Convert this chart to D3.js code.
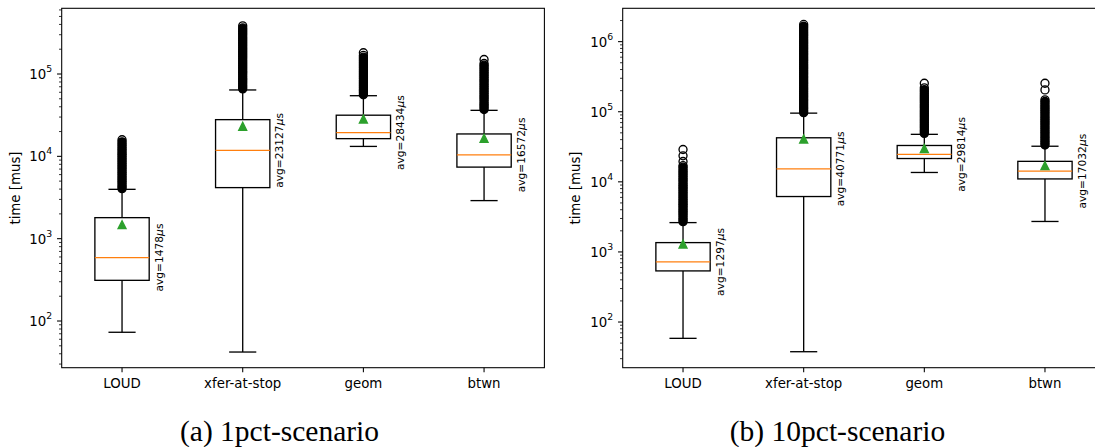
<!DOCTYPE html>
<html>
<head>
<meta charset="utf-8">
<script src="https://cdn.jsdelivr.net/npm/d3@7"></script>
<style>
  body { margin: 0; background: #fff; }
  svg text { font-family: "DejaVu Sans", sans-serif; fill: #000; }
  .caption { font-family: "Liberation Serif", "Times New Roman", serif; }
</style>
</head>
<body>
<svg id="okvir" width="1095" height="447"></svg>
<script>
const categories = ["LOUD", "xfer-at-stop", "geom", "btwn"]

// (a) 1pct-scenario
const lowA  = [73, 42, 13200, 2900]
const q1A   = [312, 4170, 16400, 7400]
const medA  = [590, 11800, 19400, 10400]
const q3A   = [1800, 27900, 31600, 18700]
const highA = [3975, 64000, 54500, 36200]
const meanA = [1478, 23127, 28434, 16572]
const outLoudA = [4050, 4250, 4450, 4700, 4950, 5200, 5450, 5750, 6050, 6350, 6700, 7050, 7400, 7800, 8200, 8600, 9050, 9500, 10000, 10500, 11000, 11600, 12200, 12800, 13500, 14200, 15000, 15900]
const outXferA = [66000, 69500, 73000, 77000, 81000, 85000, 89000, 94000, 99000, 104000, 109000, 115000, 121000, 127000, 133000, 140000, 147000, 155000, 163000, 171000, 180000, 189000, 199000, 209000, 220000, 231000, 243000, 255000, 268000, 282000, 297000, 312000, 328000, 345000, 363000, 385000]
const outGeomA = [56000, 59000, 62000, 65000, 68500, 72000, 75500, 79500, 83500, 88000, 92500, 97000, 102000, 107000, 113000, 119000, 125000, 131000, 138000, 145000, 152000, 160000, 168000, 181000]
const outBtwnA = [37000, 39000, 41000, 43000, 45000, 47500, 50000, 52500, 55000, 58000, 61000, 64000, 67000, 70500, 74000, 78000, 82000, 86000, 90500, 95000, 100000, 105000, 110000, 116000, 122000, 128000, 134000, 150000]

// (b) 10pct-scenario
const lowB  = [58.5, 37.7, 13600, 2720]
const q1B   = [536, 6170, 21500, 11000]
const medB  = [720, 15300, 24600, 14200]
const q3B   = [1358, 42500, 33000, 19600]
const highB = [2620, 95500, 47600, 32200]
const meanB = [1297, 40771, 29814, 17032]
const outLoudB = [2700, 2850, 3000, 3200, 3400, 3600, 3800, 4000, 4250, 4500, 4750, 5000, 5300, 5600, 5950, 6300, 6700, 7100, 7500, 7950, 8400, 8900, 9400, 10000, 10600, 11200, 11900, 12600, 13400, 14200, 15100, 16200, 17000, 19500, 23500, 28900]
const outXferB = [97000, 103000, 110000, 117000, 125000, 133000, 142000, 151000, 161000, 171000, 182000, 194000, 207000, 220000, 234000, 250000, 266000, 283000, 302000, 321000, 342000, 364000, 388000, 413000, 440000, 469000, 500000, 532000, 567000, 604000, 643000, 685000, 730000, 777000, 828000, 882000, 939000, 1000000, 1065000, 1135000, 1210000, 1290000, 1375000, 1465000, 1560000, 1660000, 1760000]
const outGeomB = [49000, 52000, 55000, 58500, 62000, 66000, 70000, 74500, 79000, 84000, 89000, 94500, 100000, 106000, 113000, 120000, 127000, 135000, 143000, 152000, 161000, 171000, 182000, 194000, 206000, 219000, 255000]
const outBtwnB = [33500, 35500, 37500, 40000, 42500, 45000, 48000, 51000, 54000, 57500, 61000, 65000, 69000, 73000, 77500, 82000, 87000, 92500, 98000, 104000, 110000, 117000, 124000, 132000, 140000, 148000, 205000, 255000]

const yDomainA = [27.1, 628000]
const yDomainB = [22.3, 2990000]

const okvir = d3.select("#okvir")

function crtajPanel(p) {
  const g = okvir.append("g")
  const x = d3.scaleLinear().domain([0.5, 4.5]).range([p.left, p.right])
  const y = d3.scaleLog().domain(p.domain).range([p.bottom, p.top])
  const sirina = 0.45
  const lw = 1.33

  // kutije
  categories.forEach((c, i) => {
    const pos = i + 1
    const xl = x(pos - sirina / 2), xr = x(pos + sirina / 2)
    const xc = x(pos)
    const capL = x(pos - sirina / 4), capR = x(pos + sirina / 4)

    g.append("rect")
      .attr("x", xl).attr("y", y(p.q3[i]))
      .attr("width", xr - xl).attr("height", y(p.q1[i]) - y(p.q3[i]))
      .attr("fill", "none").attr("stroke", "#000").attr("stroke-width", lw)

    // brkovi
    g.append("line").attr("x1", xc).attr("x2", xc)
      .attr("y1", y(p.q1[i])).attr("y2", y(p.low[i]))
      .attr("stroke", "#000").attr("stroke-width", lw)
    g.append("line").attr("x1", xc).attr("x2", xc)
      .attr("y1", y(p.q3[i])).attr("y2", y(p.high[i]))
      .attr("stroke", "#000").attr("stroke-width", lw)
    g.append("line").attr("x1", capL).attr("x2", capR)
      .attr("y1", y(p.low[i])).attr("y2", y(p.low[i]))
      .attr("stroke", "#000").attr("stroke-width", lw)
    g.append("line").attr("x1", capL).attr("x2", capR)
      .attr("y1", y(p.high[i])).attr("y2", y(p.high[i]))
      .attr("stroke", "#000").attr("stroke-width", lw)

    // medijan
    g.append("line").attr("x1", xl).attr("x2", xr)
      .attr("y1", y(p.med[i])).attr("y2", y(p.med[i]))
      .attr("stroke", "#ff7f0e").attr("stroke-width", lw)

    // outlieri - gusto nabijeni krugovi se stapaju u crni stupac
    const out = p.out[i]
    g.selectAll(null)
      .data(out)
      .enter().append("circle")
      .attr("cx", xc).attr("cy", d => y(d)).attr("r", 4)
      .attr("fill", (d, k) => {
        const sljedeci = out[k + 1]
        return (sljedeci !== undefined && y(d) - y(sljedeci) < 2.6) ? "#000" : "none"
      })
      .attr("stroke", "#000").attr("stroke-width", lw)

    // prosjek
    const my = y(p.mean[i])
    g.append("path")
      .attr("d", `M${xc},${my - 4}L${xc - 4},${my + 4}L${xc + 4},${my + 4}Z`)
      .attr("fill", "#2ca02c").attr("stroke", "#2ca02c").attr("stroke-width", lw)
      .attr("stroke-linejoin", "miter")

    const tx = xr + 9.5, ty = y(p.med[i])
    const t = g.append("text")
      .attr("transform", `translate(${tx},${ty}) rotate(-90)`)
      .attr("text-anchor", "middle")
      .attr("dominant-baseline", "central")
      .attr("font-size", 10.67)
    t.append("tspan").text(`avg=${p.mean[i]}`)
    t.append("tspan").attr("font-style", "italic").text("\u03bc")
    t.append("tspan").text("s")
  })

  // y os
  const ticks = y.ticks()
  ticks.forEach(v => {
    const lg = Math.log10(v)
    const major = Math.abs(lg - Math.round(lg)) < 1e-9
    g.append("line")
      .attr("x1", p.left).attr("x2", p.left - (major ? 4.67 : 2.67))
      .attr("y1", y(v)).attr("y2", y(v))
      .attr("stroke", "#000").attr("stroke-width", major ? 1.07 : 0.8)
    if (major) {
      const lab = g.append("text")
        .attr("x", p.left - 9.5).attr("y", y(v))
        .attr("text-anchor", "end")
        .attr("dominant-baseline", "central")
        .attr("font-size", 13.33)
      lab.append("tspan").text("10")
      lab.append("tspan").attr("font-size", 9.3).attr("dy", -6).text(Math.round(lg))
    }
  })

  // x os
  categories.forEach((c, i) => {
    g.append("line")
      .attr("x1", x(i + 1)).attr("x2", x(i + 1))
      .attr("y1", p.bottom).attr("y2", p.bottom + 4.67)
      .attr("stroke", "#000").attr("stroke-width", 1.07)
    g.append("text")
      .attr("x", x(i + 1)).attr("y", p.bottom + 20.5)
      .attr("text-anchor", "middle")
      .attr("font-size", 13.33)
      .text(c)
  })

  // okvir osi
  g.append("rect")
    .attr("x", p.left).attr("y", p.top)
    .attr("width", p.right - p.left).attr("height", p.bottom - p.top)
    .attr("fill", "none").attr("stroke", "#000").attr("stroke-width", 1.07)

  g.append("text")
    .attr("transform", `translate(${p.ylabelX},${(p.top + p.bottom) / 2}) rotate(-90)`)
    .attr("text-anchor", "middle")
    .attr("dominant-baseline", "central")
    .attr("font-size", 13.33)
    .text("time [mus]")

  g.append("text")
    .attr("class", "caption")
    .attr("x", p.captionX).attr("y", 441)
    .attr("text-anchor", "middle")
    .attr("font-size", 29.5)
    .text(p.caption)
}

crtajPanel({
  left: 61.7, right: 544.4, top: 8.3, bottom: 367.7,
  domain: yDomainA,
  low: lowA, q1: q1A, med: medA, q3: q3A, high: highA, mean: meanA,
  out: [outLoudA, outXferA, outGeomA, outBtwnA],
  ylabelX: 15, captionX: 279.5, caption: "(a) 1pct-scenario"
})

crtajPanel({
  left: 622.7, right: 1105.3, top: 8.3, bottom: 367.7,
  domain: yDomainB,
  low: lowB, q1: q1B, med: medB, q3: q3B, high: highB, mean: meanB,
  out: [outLoudB, outXferB, outGeomB, outBtwnB],
  ylabelX: 575, captionX: 837.5, caption: "(b) 10pct-scenario"
})
</script>
</body>
</html>
